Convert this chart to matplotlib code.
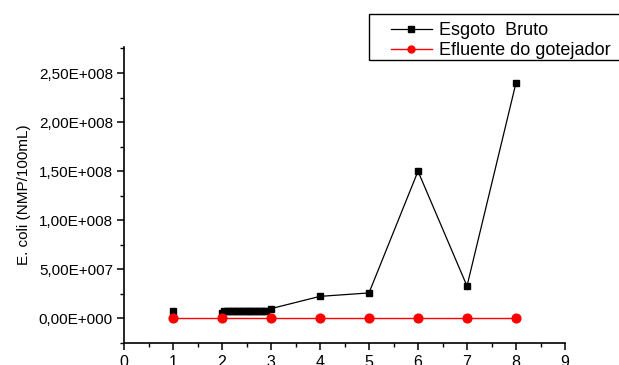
import matplotlib
matplotlib.use("Agg")
import matplotlib.pyplot as plt
from matplotlib.patches import Rectangle
import numpy as np

plt.rcParams['font.family'] = ['Liberation Sans', 'DejaVu Sans']

# Data
bruto_x = [1, np.nan, 2.0, 2.05, 2.1, 2.15, 2.2, 2.25, 2.3, 2.35, 2.4, 2.45, 2.5, 2.55,
           2.6, 2.65, 2.7, 2.75, 2.8, 2.85, 2.9, 3, 4, 5, 6, 7, 8]
bruto_y = [8.0e6, np.nan, 6.0e6, 7.3e6, 7.3e6, 7.3e6, 7.3e6, 7.3e6, 7.3e6, 7.3e6, 7.3e6,
           7.3e6, 7.3e6, 7.3e6, 7.3e6, 7.3e6, 7.3e6, 7.3e6, 7.3e6, 7.3e6, 7.3e6,
           1.0e7, 2.25e7, 2.6e7, 1.5e8, 3.3e7, 2.4e8]
efl_x = [1, 2, 3, 4, 5, 6, 7, 8]
efl_y = [0, 0, 0, 0, 0, 0, 0, 0]

xticks = [0, 1, 2, 3, 4, 5, 6, 7, 8, 9]
yticks = [0, 5e7, 1e8, 1.5e8, 2e8, 2.5e8]
ytick_labels = ['0,00E+000', '5,00E+007', '1,00E+008', '1,50E+008', '2,00E+008', '2,50E+008']

fig = plt.figure(figsize=(6.19, 3.65), dpi=100)
ax = fig.add_axes([124/619, 1-343/365, (565-124)/619, (343-47)/365])

ax.plot(bruto_x, bruto_y, color='black', lw=0.9, marker='s', ms=4.6,
        label='Esgoto  Bruto', zorder=3)
ax.plot(efl_x, efl_y, color='red', lw=1.0, marker='o', ms=6.3,
        label='Efluente do gotejador', zorder=4)

ax.set_xlim(0, 9)
ax.set_ylim(-2.44e7, 2.765e8)
ax.set_xticks(xticks)
ax.set_xticklabels([str(t) for t in xticks])
ax.set_xticks(np.arange(0.5, 9, 1.0), minor=True)
ax.set_yticks(yticks)
ax.set_yticklabels(ytick_labels)
ax.set_yticks(np.arange(-2.5e7, 2.76e8, 5e7), minor=True)

for s in ['top', 'right']:
    ax.spines[s].set_visible(False)
for s in ['left', 'bottom']:
    ax.spines[s].set_linewidth(1.2)
ax.tick_params(which='major', direction='out', length=5, width=1.1, labelsize=11)
ax.tick_params(which='minor', direction='out', length=3, width=1.0)
ax.tick_params(axis='y', pad=3)
ax.tick_params(axis='x', labelsize=11.5, pad=3.5)

ax.set_ylabel('E. coli (NMP/100mL)', fontsize=11)
ax.yaxis.set_label_coords((31 - 124) / 441, 0.5)

# legend frame
fig.patches.append(Rectangle((369/619, 1-60/365), (640-369)/619, (60-14)/365,
                             transform=fig.transFigure, fill=False,
                             edgecolor='black', lw=1.0, zorder=5))
leg = fig.legend(loc='center left', bbox_to_anchor=(391/619, 1-40.5/365),
                 fontsize=13, frameon=False,
                 borderpad=0, labelspacing=0.15, handlelength=2.25, handletextpad=0.4,
                 borderaxespad=0)
for h in leg.legend_handles:
    h.set_markersize(5)

fig.savefig('out.png', dpi=100)
